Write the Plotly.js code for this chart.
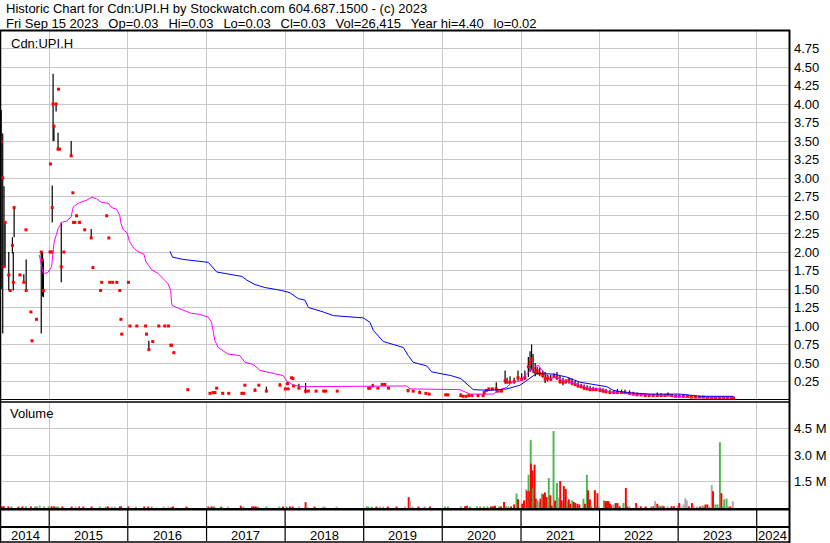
<!DOCTYPE html>
<html>
<head>
<meta charset="utf-8">
<script src="https://cdn.plot.ly/plotly-3.0.1.min.js"></script>
<style>
html,body{margin:0;padding:0;background:#fff;}
#chart{width:830px;height:543px;}
</style>
</head>
<body>
<div id="chart"></div>
<script>
// ---------------- DATA ----------------
const titleLine1 = 'Historic Chart for Cdn:UPI.H by Stockwatch.com 604.687.1500 - (c) 2023';
const titleLine2Parts = ['Fri Sep 15 2023', 'Op=0.03', 'Hi=0.03', 'Lo=0.03', 'Cl=0.03', 'Vol=26,415', 'Year hi=4.40', 'lo=0.02'];
const symbolLabel = 'Cdn:UPI.H';
const volumeLabel = 'Volume';

const priceDates = [
 '2014-05-23','2014-05-30','2014-06-05','2014-06-10','2014-06-27','2014-07-04','2014-07-14','2014-07-18','2014-07-22','2014-08-18',
 '2014-09-05','2014-09-15','2014-09-16','2014-10-08','2014-10-13','2014-11-03','2014-11-25','2014-12-01','2014-12-05','2015-01-05',
 '2015-01-07','2015-01-13','2015-01-15','2015-01-19','2015-01-23','2015-02-02','2015-02-11','2015-02-13','2015-02-18','2015-02-26',
 '2015-03-10','2015-04-13','2015-04-21','2015-04-24','2015-04-30','2015-05-08','2015-05-22','2015-06-15','2015-07-15','2015-07-23',
 '2015-08-28','2015-09-02','2015-09-25','2015-10-05','2015-10-09','2015-10-23','2015-11-11','2015-11-25','2015-11-30','2015-12-04',
 '2016-01-04','2016-01-11','2016-02-12','2016-03-24','2016-03-28','2016-04-08','2016-04-26','2016-05-24','2016-06-21','2016-07-08',
 '2016-07-19','2016-07-22','2016-08-02','2016-10-06','2017-01-17','2017-01-31','2017-02-09','2017-02-17','2017-03-17','2017-04-14',
 '2017-06-14','2017-06-23','2017-06-28','2017-08-14','2017-09-01','2017-10-06','2017-12-08','2018-01-02','2018-01-12','2018-01-15',
 '2018-01-31','2018-02-06','2018-02-09','2018-03-06','2018-04-06','2018-04-19','2018-05-25','2018-06-29','2018-07-09','2018-08-31',
 '2019-01-24','2019-01-30','2019-02-12','2019-03-08','2019-03-28','2019-04-09','2019-04-26','2019-07-26','2019-08-19','2019-09-18',
 '2019-10-17','2019-11-01','2020-01-17','2020-01-27','2020-03-27','2020-04-06','2020-04-20','2020-05-04','2020-05-18','2020-06-15',
 '2020-07-09','2020-07-14','2020-07-24','2020-08-05','2020-08-21','2020-09-08','2020-09-17','2020-10-02','2020-10-19','2020-10-28',
 '2020-11-11','2020-11-30','2020-12-18','2021-01-04','2021-01-19','2021-02-04','2021-02-12','2021-02-19','2021-02-26','2021-03-08',
 '2021-03-17','2021-03-29','2021-04-12','2021-04-23','2021-05-05','2021-05-19','2021-06-03','2021-06-17','2021-07-01','2021-07-15',
 '2021-07-29','2021-08-12','2021-08-26','2021-09-09','2021-09-23','2021-10-07','2021-10-21','2021-11-04','2021-11-18','2021-12-02',
 '2021-12-16','2022-01-03','2022-01-17','2022-01-31','2022-02-18','2022-03-08','2022-03-25','2022-04-13','2022-04-29','2022-05-20',
 '2022-06-07','2022-06-24','2022-07-13','2022-08-01','2022-08-19','2022-09-07','2022-09-26','2022-10-14','2022-11-01','2022-11-15',
 '2022-12-02','2022-12-20','2023-01-06','2023-01-25','2023-02-13','2023-03-03','2023-03-22','2023-04-10','2023-04-28','2023-05-17',
 '2023-06-05','2023-06-23','2023-07-12','2023-07-31','2023-08-18','2023-09-06','2023-09-15'
];
const priceHigh = [
 3.92,3.60,2.89,2.40,2.00,1.48,2.20,2.00,2.61,1.69,
 1.70,2.30,1.90,1.19,0.80,1.09,2.00,2.00,1.89,2.00,
 3.19,2.00,2.90,4.41,3.72,4.00,3.61,4.20,3.39,2.40,
 2.00,3.50,2.80,2.40,2.40,2.49,2.40,2.30,2.31,1.79,
 1.48,1.59,2.49,2.19,1.59,1.59,1.59,1.48,1.09,0.89,
 1.59,1.00,1.00,1.00,0.89,0.80,0.79,1.00,1.00,1.00,
 0.74,0.74,0.64,0.14,0.09,0.10,0.10,0.16,0.09,0.09,
 0.09,0.09,0.20,0.16,0.20,0.18,0.23,0.15,0.24,0.15,
 0.30,0.29,0.19,0.22,0.23,0.12,0.12,0.12,0.12,0.12,
 0.16,0.16,0.22,0.16,0.21,0.21,0.16,0.15,0.12,0.13,
 0.09,0.08,0.07,0.07,0.09,0.05,0.05,0.06,0.06,0.06,
 0.06,0.12,0.13,0.15,0.15,0.24,0.12,0.12,0.40,0.30,
 0.32,0.30,0.40,0.36,0.40,0.58,0.66,0.75,0.62,0.50,
 0.45,0.44,0.40,0.38,0.34,0.34,0.36,0.38,0.33,0.30,
 0.28,0.30,0.29,0.26,0.24,0.22,0.21,0.20,0.19,0.18,
 0.17,0.17,0.16,0.15,0.14,0.13,0.15,0.14,0.14,0.13,
 0.11,0.10,0.09,0.09,0.08,0.08,0.10,0.09,0.08,0.10,
 0.08,0.07,0.07,0.06,0.06,0.06,0.05,0.05,0.05,0.05,
 0.04,0.04,0.04,0.04,0.04,0.04,0.03
];
const priceLow = [
 1.50,0.90,1.80,1.80,1.48,1.48,1.98,1.48,2.20,1.69,
 1.59,2.30,1.48,1.19,0.80,1.09,0.90,1.40,1.39,2.00,
 3.19,2.00,2.40,3.50,3.50,3.90,3.39,4.20,3.39,1.59,
 2.00,3.30,2.80,2.40,2.40,2.49,2.40,2.30,2.19,1.79,
 1.48,1.59,2.49,2.19,1.59,1.59,1.59,1.48,1.09,0.89,
 1.59,1.00,1.00,1.00,0.89,0.68,0.79,1.00,1.00,1.00,
 0.74,0.74,0.64,0.14,0.09,0.10,0.10,0.16,0.09,0.09,
 0.09,0.09,0.20,0.13,0.20,0.12,0.20,0.15,0.22,0.15,
 0.30,0.29,0.19,0.16,0.09,0.12,0.12,0.12,0.12,0.12,
 0.16,0.16,0.19,0.16,0.21,0.21,0.16,0.10,0.12,0.10,
 0.09,0.08,0.07,0.07,0.05,0.05,0.05,0.06,0.06,0.06,
 0.06,0.07,0.13,0.15,0.15,0.10,0.12,0.12,0.22,0.24,
 0.22,0.22,0.26,0.26,0.27,0.31,0.38,0.40,0.36,0.32,
 0.34,0.32,0.30,0.23,0.25,0.26,0.30,0.27,0.22,0.20,
 0.22,0.22,0.20,0.19,0.17,0.16,0.14,0.14,0.13,0.13,
 0.12,0.11,0.10,0.10,0.09,0.08,0.09,0.09,0.09,0.08,
 0.07,0.06,0.06,0.06,0.05,0.05,0.05,0.05,0.05,0.05,
 0.05,0.04,0.04,0.04,0.04,0.03,0.03,0.03,0.03,0.03,
 0.02,0.02,0.03,0.03,0.03,0.03,0.03
];
const priceClose = [
 3.49,3.00,1.80,2.40,1.69,1.48,2.09,1.59,2.60,1.69,
 1.59,2.30,1.48,1.19,0.80,1.09,2.00,1.89,1.48,2.00,
 3.19,2.00,2.60,4.00,3.70,4.00,3.39,4.20,3.39,1.80,
 2.00,3.30,2.80,2.40,2.40,2.49,2.40,2.30,2.19,1.79,
 1.48,1.59,2.49,2.19,1.59,1.59,1.59,1.48,1.09,0.89,
 1.59,1.00,1.00,1.00,0.89,0.68,0.79,1.00,1.00,1.00,
 0.74,0.74,0.64,0.14,0.09,0.10,0.10,0.16,0.09,0.09,
 0.09,0.09,0.20,0.13,0.20,0.12,0.20,0.15,0.22,0.15,
 0.30,0.29,0.19,0.16,0.12,0.12,0.12,0.12,0.12,0.12,
 0.16,0.16,0.19,0.16,0.21,0.21,0.16,0.13,0.12,0.10,
 0.09,0.08,0.07,0.07,0.06,0.05,0.05,0.06,0.06,0.06,
 0.06,0.10,0.13,0.15,0.15,0.15,0.12,0.12,0.26,0.24,
 0.24,0.25,0.30,0.28,0.30,0.45,0.50,0.55,0.42,0.38,
 0.40,0.36,0.33,0.28,0.30,0.28,0.32,0.30,0.25,0.24,
 0.25,0.27,0.23,0.21,0.19,0.18,0.16,0.15,0.14,0.14,
 0.14,0.13,0.12,0.11,0.10,0.10,0.10,0.10,0.10,0.09,
 0.08,0.07,0.07,0.06,0.06,0.06,0.06,0.06,0.06,0.07,
 0.06,0.05,0.05,0.05,0.05,0.04,0.04,0.04,0.04,0.03,
 0.03,0.03,0.03,0.03,0.03,0.03,0.03
];

// short moving average (magenta)
const maShortDates = [
 '2014-11-16','2014-12-04','2014-12-25','2015-01-12','2015-01-24','2015-02-12','2015-02-28','2015-03-23','2015-04-12','2015-04-23',
 '2015-05-16','2015-06-24','2015-07-18','2015-08-09','2015-09-01','2015-10-02','2015-10-18','2015-11-10','2015-11-25','2015-11-30',
 '2015-12-11','2015-12-29','2016-01-08','2016-01-26','2016-02-14','2016-03-16','2016-03-25','2016-04-21','2016-05-21','2016-06-21',
 '2016-07-06','2016-07-18','2016-07-24','2016-08-15','2016-09-22','2016-10-23','2016-11-27','2017-01-09','2017-01-24','2017-02-09',
 '2017-02-24','2017-04-11','2017-06-05','2017-06-28','2017-08-06','2017-09-06','2017-10-07','2017-11-15','2017-12-23','2018-01-08',
 '2018-02-08','2018-03-26','2019-07-20','2019-08-04','2019-12-21','2020-03-23','2020-05-09','2020-07-10','2020-08-25','2020-09-25',
 '2020-10-27','2020-11-19','2020-12-27','2021-01-27','2021-02-27','2021-03-22','2021-04-14','2021-05-15','2021-06-15','2021-07-16',
 '2021-09-01','2021-11-18','2022-01-03','2022-03-06','2022-06-07','2022-11-09','2023-03-13','2023-09-13'
];
const maShortValues = [
 1.96,1.71,1.72,1.80,2.14,2.32,2.40,2.42,2.47,2.61,
 2.66,2.70,2.74,2.72,2.67,2.66,2.60,2.58,2.49,2.39,
 2.30,2.26,2.15,2.06,2.01,1.97,1.87,1.76,1.71,1.62,
 1.57,1.48,1.28,1.25,1.20,1.17,1.16,1.12,1.05,0.80,
 0.71,0.62,0.60,0.51,0.48,0.40,0.38,0.35,0.33,0.26,
 0.20,0.18,0.19,0.15,0.14,0.14,0.08,0.08,0.08,0.14,
 0.17,0.24,0.26,0.35,0.44,0.47,0.38,0.29,0.31,0.26,
 0.23,0.15,0.15,0.10,0.08,0.06,0.03,0.03
];

// long moving average (blue)
const maLongDates = [
 '2016-07-15','2016-07-27','2016-09-14','2016-10-31','2017-01-09','2017-02-17','2017-04-28','2017-06-14','2017-07-07','2017-08-14',
 '2017-09-29','2017-12-16','2018-01-23','2018-03-03','2018-04-03','2018-04-19','2018-06-27','2018-08-13','2018-12-30','2019-01-30',
 '2019-02-15','2019-04-02','2019-07-04','2019-07-27','2019-08-19','2019-10-21','2019-11-13','2020-02-10','2020-03-27','2020-04-24',
 '2020-05-24','2020-08-09','2020-10-27','2020-12-27','2021-02-12','2021-03-15','2021-05-31','2021-08-01','2021-10-02','2021-12-19',
 '2022-02-03','2022-03-06','2022-05-07','2022-08-23','2023-01-10','2023-04-13','2023-09-13'
];
const maLongValues = [
 2.01,1.93,1.90,1.88,1.86,1.73,1.69,1.67,1.62,1.56,
 1.52,1.48,1.45,1.37,1.35,1.25,1.19,1.14,1.11,1.05,
 0.94,0.79,0.71,0.60,0.51,0.46,0.38,0.33,0.29,0.22,
 0.14,0.13,0.15,0.20,0.29,0.36,0.35,0.31,0.24,0.20,
 0.18,0.13,0.10,0.08,0.08,0.05,0.05
];

// volume (shares) and direction: u = up (green), d = down (red), n = unchanged (grey)
const volDates = [
 '2014-05-26','2014-06-04','2014-06-25','2014-07-09','2014-08-11','2014-08-29','2014-09-15','2014-10-08','2014-10-27','2014-11-05',
 '2014-11-18','2014-12-09','2014-12-29','2015-01-12','2015-01-23','2015-02-02','2015-02-11','2015-03-03','2015-04-15','2015-05-04',
 '2015-05-20','2015-06-08','2015-07-17','2015-08-24','2015-09-21','2015-10-01','2015-10-19','2015-11-02','2015-11-25','2015-12-01',
 '2016-01-04','2016-02-08','2016-03-17','2016-04-05','2016-04-21','2016-06-16','2016-07-08','2016-07-21','2016-07-29','2016-09-30',
 '2017-01-09','2017-01-24','2017-02-03','2017-02-08','2017-03-10','2017-04-11','2017-06-09','2017-06-21','2017-07-31','2017-08-09',
 '2017-08-18','2017-08-29','2017-10-06','2017-12-05','2017-12-22','2018-01-08','2018-01-23','2018-02-05','2018-03-06','2018-04-06',
 '2018-04-15','2018-05-18','2018-06-27','2018-07-05','2018-08-28','2019-01-15','2019-01-22','2019-02-07','2019-03-01','2019-03-18',
 '2019-04-02','2019-04-23','2019-06-03','2019-07-12','2019-07-29','2019-08-05','2019-08-16','2019-09-12','2019-10-11','2019-11-05',
 '2020-01-14','2020-01-28','2020-03-27','2020-04-16','2020-04-24','2020-05-08','2020-06-11','2020-06-25','2020-07-13','2020-07-29',
 '2020-08-14','2020-08-24','2020-09-02','2020-09-21','2020-09-30','2020-10-14','2020-10-23','2020-11-03','2020-11-16','2020-11-30',
 '2020-12-11','2020-12-18','2021-01-04','2021-01-08','2021-01-15','2021-01-25','2021-01-29','2021-02-05','2021-02-08','2021-02-15',
 '2021-02-16','2021-02-23','2021-02-26','2021-03-05','2021-03-11','2021-03-18','2021-03-25','2021-04-01','2021-04-08','2021-04-15',
 '2021-04-22','2021-04-30','2021-05-10','2021-05-17','2021-05-24','2021-06-01','2021-06-08','2021-06-17','2021-06-24','2021-07-02',
 '2021-07-09','2021-07-19','2021-07-28','2021-08-04','2021-08-11','2021-08-18','2021-08-27','2021-09-03','2021-09-10','2021-09-20',
 '2021-09-29','2021-10-18','2021-10-25','2021-11-03','2021-11-08','2021-11-17','2021-11-24','2021-12-10','2021-12-17','2021-12-22',
 '2021-12-29','2022-01-21','2022-01-28','2022-02-04','2022-02-11','2022-02-18','2022-02-25','2022-03-08','2022-03-17','2022-03-25',
 '2022-04-04','2022-04-22','2022-05-03','2022-05-10','2022-05-20','2022-06-20','2022-06-27','2022-07-11','2022-08-03','2022-08-29',
 '2022-09-08','2022-09-16','2022-09-26','2022-10-03','2022-10-12','2022-10-19','2022-10-26','2022-11-14','2022-12-01','2022-12-12',
 '2022-12-29','2023-01-06','2023-01-13','2023-01-26','2023-02-03','2023-02-10','2023-02-20','2023-03-06','2023-03-15','2023-03-29',
 '2023-04-12','2023-04-24','2023-05-01','2023-05-08','2023-05-17','2023-05-26','2023-06-06','2023-06-12','2023-06-23','2023-07-03',
 '2023-07-14','2023-07-21','2023-07-27','2023-08-03','2023-08-14','2023-08-21','2023-08-31','2023-09-12'
];
const volValues = [
 100000,100000,90000,90000,80000,90000,80000,90000,80000,90000,
 150000,90000,90000,100000,90000,90000,80000,90000,80000,80000,
 80000,80000,80000,80000,80000,90000,80000,80000,90000,90000,
 90000,80000,80000,80000,80000,80000,80000,80000,80000,80000,
 80000,90000,80000,80000,80000,80000,130000,80000,90000,90000,
 90000,80000,80000,80000,90000,80000,90000,80000,80000,330000,
 80000,80000,80000,80000,80000,80000,80000,80000,80000,80000,
 80000,80000,80000,90000,610000,390000,90000,80000,100000,80000,
 80000,80000,90000,100000,130000,80000,90000,90000,90000,90000,
 90000,90000,130000,90000,90000,340000,90000,100000,90000,200000,
 820000,490000,240000,240000,430000,1070000,970000,1880000,970000,3840000,
 2510000,2130000,1110000,2450000,530000,430000,340000,530000,820000,780000,
 880000,630000,1700000,720000,140000,4360000,430000,1410000,590000,1530000,
 430000,1240000,1070000,380000,490000,240000,430000,340000,280000,240000,
 200000,530000,240000,1880000,1010000,490000,140000,1010000,90000,840000,
 90000,430000,390000,390000,390000,240000,140000,200000,280000,280000,
 100000,280000,1130000,90000,90000,280000,90000,100000,90000,90000,
 90000,390000,240000,140000,90000,140000,100000,90000,100000,100000,
 140000,280000,90000,200000,550000,430000,90000,280000,90000,90000,
 90000,140000,90000,200000,200000,90000,1300000,950000,200000,200000,
 3720000,840000,90000,490000,530000,90000,90000,380000
];
const volDir = [
 'd','d','d','u','d','d','u','d','u','u',
 'n','u','u','d','d','u','u','d','d','n',
 'd','d','d','u','u','d','n','n','d','d',
 'd','n','d','d','u','n','n','n','d','d',
 'd','d','d','n','d','n','d','u','d','d',
 'd','u','u','u','d','u','d','d','n','d',
 'n','d','n','n','n','u','u','u','d','n',
 'n','d','d','n','d','n','n','d','n','d',
 'u','u','u','d','d','u','u','u','u','u',
 'd','d','d','u','d','d','u','u','d','d',
 'u','d','u','d','d','n','d','u','d','u',
 'd','d','u','d','d','u','n','d','u','d',
 'd','d','u','d','d','u','d','u','n','d',
 'd','d','d','u','d','d','u','d','d','d',
 'd','u','d','u','d','d','u','d','u','d',
 'n','u','d','d','d','d','d','n','d','d',
 'd','u','d','d','n','d','n','d','d','u',
 'd','n','d','u','d','u','d','n','d','d',
 'n','d','n','n','n','n','d','d','n','n',
 'd','u','u','d','d','n','n','d','u','u',
 'u','d','u','u','u','n','d','n'
];

const priceTicks = [0.25,0.50,0.75,1.00,1.25,1.50,1.75,2.00,2.25,2.50,2.75,3.00,3.25,3.50,3.75,4.00,4.25,4.50,4.75];
const volTicks = [1500000, 3000000, 4500000];
const volTickText = ['1.5 M', '3.0 M', '4.5 M'];
const years = [2014,2015,2016,2017,2018,2019,2020,2021,2022,2023,2024];

// ---------------- LAYOUT HELPERS ----------------
const W = 830, H = 543;
const M = {l: 1, r: 41, t: 30, b: 35};
const PW = W - M.l - M.r, PH = H - M.t - M.b;
const xRange = ['2014-05-22', '2024-05-30'];
const t0 = Date.parse(xRange[0]), t1 = Date.parse(xRange[1]);
const fx = X => (X - M.l) / PW;           // pixel x -> paper x
const fy = Y => (H - M.b - Y) / PH;        // pixel y -> paper y
const fd = d => (Date.parse(d) - t0) / (t1 - t0); // date -> paper x
const FONT = 'Liberation Sans, Arial, Helvetica, sans-serif';
const GAP = '\u00a0\u00a0\u2009';
const titleLine2 = titleLine2Parts.map(s => s.replace(/ /g, '\u00a0')).join(GAP);

const dirColor = {u: '#4db84d', d: '#ff0000', n: '#a9a9a9'};

const traces = [
  {
    type: 'scatter', mode: 'markers', x: priceDates, y: priceClose, xaxis: 'x', yaxis: 'y',
    marker: {symbol: 'square', size: 3, color: '#ff0000', line: {width: 0}},
    error_y: {type: 'data', symmetric: false,
      array: priceHigh.map((h, i) => +(h - priceClose[i]).toFixed(4)),
      arrayminus: priceLow.map((l, i) => +(priceClose[i] - l).toFixed(4)),
      color: '#000000', thickness: 1.2, width: 0},
    hoverinfo: 'skip', showlegend: false
  },
  {
    type: 'scatter', mode: 'lines', x: maShortDates, y: maShortValues, xaxis: 'x', yaxis: 'y',
    line: {color: '#ff00ff', width: 1}, hoverinfo: 'skip', showlegend: false
  },
  {
    type: 'scatter', mode: 'lines', x: maLongDates, y: maLongValues, xaxis: 'x', yaxis: 'y',
    line: {color: '#0000ff', width: 1}, hoverinfo: 'skip', showlegend: false
  },
  {
    type: 'bar', x: volDates, y: volValues, xaxis: 'x', yaxis: 'y2',
    width: 9 * 86400000,
    marker: {color: volDir.map(d => dirColor[d]), line: {width: 0}},
    hoverinfo: 'skip', showlegend: false
  }
];

// year boundaries & labels
const shapes = [];
const annotations = [];
const lineShape = (x0, y0, x1, y1, w) => ({type: 'line', xref: 'paper', yref: 'paper',
  x0, y0, x1, y1, line: {color: '#000000', width: w}, layer: 'above'});

years.forEach(yr => {
  const a = Math.max(fd(yr + '-01-01'), 0);
  const b = Math.min(fd((yr + 1) + '-01-01'), 1);
  if (fd(yr + '-01-01') > 0 && fd(yr + '-01-01') < 1) {
    const xb = fd(yr + '-01-01');
    shapes.push(lineShape(xb, fy(510), xb, fy(526), 1.2));
    shapes.push(lineShape(xb, fy(528), xb, fy(541), 1.2));
  }
  if (b > a) {
    annotations.push({xref: 'paper', yref: 'paper', x: (a + b) / 2, y: fy(535), text: String(yr),
      showarrow: false, xanchor: 'center', yanchor: 'middle', font: {family: FONT, size: 13, color: '#000'}});
  }
});

// frame lines
shapes.push(lineShape(fx(0), fy(30.5), fx(790), fy(30.5), 2));      // top
shapes.push(lineShape(fx(0.5), fy(30), fx(0.5), fy(543), 1.5));     // left
shapes.push(lineShape(fx(789.5), fy(30), fx(789.5), fy(543), 2));   // right
shapes.push(lineShape(fx(0), fy(399.5), fx(790), fy(399.5), 1));    // main bottom (double)
shapes.push(lineShape(fx(0), fy(402), fx(790), fy(402), 1.5));
shapes.push(lineShape(fx(0), fy(509.2), fx(790), fy(509.2), 2.5));  // volume bottom
shapes.push(lineShape(fx(0), fy(527), fx(790), fy(527), 2));        // label row top
shapes.push(lineShape(fx(0), fy(542), fx(790), fy(542), 1.5));      // bottom

annotations.push({xref: 'paper', yref: 'paper', x: fx(4), y: fy(8), text: titleLine1.replace(/ /g, '\u00a0'), showarrow: false,
  xanchor: 'left', yanchor: 'middle', font: {family: FONT, size: 13, color: '#000'}});
annotations.push({xref: 'paper', yref: 'paper', x: fx(4), y: fy(23.5), text: titleLine2, showarrow: false,
  xanchor: 'left', yanchor: 'middle', font: {family: FONT, size: 13, color: '#000'}});
annotations.push({xref: 'paper', yref: 'paper', x: fx(9), y: fy(43), text: symbolLabel, showarrow: false,
  xanchor: 'left', yanchor: 'middle', font: {family: FONT, size: 13, color: '#000'}});
annotations.push({xref: 'paper', yref: 'paper', x: fx(8), y: fy(413), text: volumeLabel, showarrow: false,
  xanchor: 'left', yanchor: 'middle', font: {family: FONT, size: 13, color: '#000'}});

const layout = {
  width: W, height: H,
  margin: M,
  paper_bgcolor: '#ffffff', plot_bgcolor: '#ffffff',
  showlegend: false,
  font: {family: FONT, size: 13, color: '#000'},
  xaxis: {type: 'date', range: xRange, tickvals: years.map(y => y + '-01-01'), showticklabels: false,
    showgrid: true, gridcolor: '#c8c8c8', gridwidth: 1, zeroline: false, showline: false, ticks: '',
    anchor: 'y2', fixedrange: true},
  yaxis: {domain: [fy(400), 1], range: [0, 5], side: 'right', tickvals: priceTicks,
    ticktext: priceTicks.map(v => v.toFixed(2)), showgrid: true, gridcolor: '#c8c8c8', gridwidth: 1,
    zeroline: false, showline: false, ticks: '', ticklabelstandoff: 4,
    tickfont: {family: FONT, size: 13, color: '#000'}, anchor: 'x', fixedrange: true},
  yaxis2: {domain: [0, fy(402)], range: [0, 6000000], side: 'right', tickvals: volTicks, ticktext: volTickText,
    showgrid: true, gridcolor: '#c8c8c8', gridwidth: 1, zeroline: false, showline: false, ticks: '',
    ticklabelstandoff: 4, tickfont: {family: FONT, size: 13, color: '#000'}, anchor: 'x', fixedrange: true},
  barmode: 'overlay',
  shapes, annotations
};

Plotly.newPlot('chart', traces, layout, {staticPlot: true, displayModeBar: false});
</script>
</body>
</html>
